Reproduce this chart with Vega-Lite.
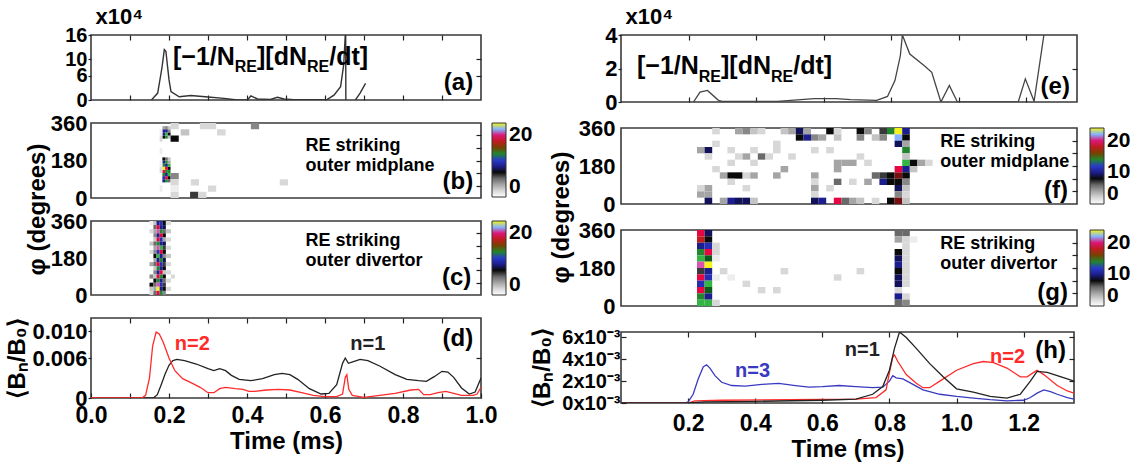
{
"$schema":"https://vega.github.io/schema/vega-lite/v6.json",
"background":"white",
"padding":{"left":5,"top":4,"right":0,"bottom":0},
"config":{
 "view":{"stroke":"#3a3a3a","strokeWidth":1.6},
 "axis":{"grid":false,"domain":false,"labelFont":"Liberation Sans","labelFontWeight":"bold","labelFontSize":22,"labelColor":"#000","titleFont":"Liberation Sans","titleFontWeight":"bold","titleFontSize":24,"titleColor":"#000","tickColor":"#222","tickWidth":1.2,"labelFlush":false,"labelOverlap":false},
 "text":{"font":"Liberation Sans","fontWeight":"bold","color":"#000"}
},
"datasets":{
 "a_line":[{"t":0.155,"v":0,"s":1},{"t":0.171,"v":1.7,"s":1},{"t":0.182,"v":8,"s":1},{"t":0.188,"v":12.4,"s":1},{"t":0.192,"v":12,"s":1},{"t":0.2,"v":5,"s":1},{"t":0.205,"v":2.1,"s":1},{"t":0.226,"v":0.8,"s":1},{"t":0.256,"v":1.1,"s":1},{"t":0.3,"v":0.75,"s":1},{"t":0.341,"v":0.4,"s":1},{"t":0.375,"v":0,"s":1},{"t":0.401,"v":0,"s":1},{"t":0.41,"v":1.0,"s":1},{"t":0.427,"v":0.25,"s":1},{"t":0.46,"v":0.15,"s":1},{"t":0.478,"v":0.66,"s":1},{"t":0.495,"v":0.25,"s":1},{"t":0.52,"v":0.05,"s":1},{"t":0.606,"v":0.15,"s":1},{"t":0.623,"v":1.2,"s":1},{"t":0.64,"v":3.3,"s":1},{"t":0.648,"v":8.7,"s":1},{"t":0.6525,"v":17,"s":1},{"t":0.653,"v":17,"s":1},{"t":0.6535,"v":0,"s":1},{"t":0.678,"v":0,"s":2},{"t":0.69,"v":1.7,"s":2},{"t":0.704,"v":4.1,"s":2}],
 "e_line":[{"t":0.2145,"v":0},{"t":0.234,"v":0.59},{"t":0.256,"v":0.69},{"t":0.2885,"v":0.1},{"t":0.299,"v":0.04},{"t":0.463,"v":0.04},{"t":0.572,"v":0.2},{"t":0.637,"v":0.2},{"t":0.68,"v":0.14},{"t":0.757,"v":0.1},{"t":0.789,"v":0.33},{"t":0.811,"v":1.28},{"t":0.827,"v":2.76},{"t":0.833,"v":4.0},{"t":0.855,"v":2.86},{"t":0.898,"v":2.17},{"t":0.92,"v":1.77},{"t":0.947,"v":0},{"t":0.972,"v":0.99},{"t":0.996,"v":0},{"t":1.176,"v":0},{"t":1.197,"v":1.38},{"t":1.223,"v":0.04},{"t":1.252,"v":4.0},{"t":1.258,"v":4.6}],
 "d_line":[
 {"t":0,"v":0,"n":"n=1"},{"t":0.16,"v":0,"n":"n=1"},{"t":0.17,"v":0.0005,"n":"n=1"},{"t":0.18,"v":0.002,"n":"n=1"},{"t":0.19,"v":0.0036,"n":"n=1"},{"t":0.2,"v":0.0049,"n":"n=1"},{"t":0.21,"v":0.0056,"n":"n=1"},{"t":0.22,"v":0.0058,"n":"n=1"},{"t":0.24,"v":0.0056,"n":"n=1"},{"t":0.27,"v":0.0051,"n":"n=1"},{"t":0.3,"v":0.0044,"n":"n=1"},{"t":0.315,"v":0.0041,"n":"n=1"},{"t":0.33,"v":0.0044,"n":"n=1"},{"t":0.345,"v":0.0041,"n":"n=1"},{"t":0.36,"v":0.0034,"n":"n=1"},{"t":0.38,"v":0.0028,"n":"n=1"},{"t":0.41,"v":0.0026,"n":"n=1"},{"t":0.44,"v":0.0029,"n":"n=1"},{"t":0.47,"v":0.0035,"n":"n=1"},{"t":0.49,"v":0.0037,"n":"n=1"},{"t":0.51,"v":0.0035,"n":"n=1"},{"t":0.53,"v":0.0028,"n":"n=1"},{"t":0.56,"v":0.0014,"n":"n=1"},{"t":0.59,"v":0.0006,"n":"n=1"},{"t":0.61,"v":0.0007,"n":"n=1"},{"t":0.63,"v":0.002,"n":"n=1"},{"t":0.645,"v":0.0052,"n":"n=1"},{"t":0.652,"v":0.006,"n":"n=1"},{"t":0.66,"v":0.0052,"n":"n=1"},{"t":0.675,"v":0.0055,"n":"n=1"},{"t":0.69,"v":0.0058,"n":"n=1"},{"t":0.71,"v":0.0056,"n":"n=1"},{"t":0.74,"v":0.0048,"n":"n=1"},{"t":0.78,"v":0.0035,"n":"n=1"},{"t":0.81,"v":0.0028,"n":"n=1"},{"t":0.84,"v":0.0026,"n":"n=1"},{"t":0.86,"v":0.0025,"n":"n=1"},{"t":0.88,"v":0.0032,"n":"n=1"},{"t":0.9,"v":0.004,"n":"n=1"},{"t":0.915,"v":0.0039,"n":"n=1"},{"t":0.93,"v":0.0031,"n":"n=1"},{"t":0.95,"v":0.0015,"n":"n=1"},{"t":0.97,"v":0.0006,"n":"n=1"},{"t":0.985,"v":0.0009,"n":"n=1"},{"t":1.0,"v":0.003,"n":"n=1"},
 {"t":0,"v":0,"n":"n=2"},{"t":0.13,"v":0,"n":"n=2"},{"t":0.14,"v":0.0004,"n":"n=2"},{"t":0.15,"v":0.003,"n":"n=2"},{"t":0.158,"v":0.0078,"n":"n=2"},{"t":0.167,"v":0.0099,"n":"n=2"},{"t":0.175,"v":0.0096,"n":"n=2"},{"t":0.185,"v":0.0084,"n":"n=2"},{"t":0.2,"v":0.006,"n":"n=2"},{"t":0.215,"v":0.0041,"n":"n=2"},{"t":0.235,"v":0.0029,"n":"n=2"},{"t":0.26,"v":0.0022,"n":"n=2"},{"t":0.28,"v":0.0016,"n":"n=2"},{"t":0.3,"v":0.0008,"n":"n=2"},{"t":0.315,"v":0.0008,"n":"n=2"},{"t":0.33,"v":0.0014,"n":"n=2"},{"t":0.345,"v":0.0016,"n":"n=2"},{"t":0.37,"v":0.0014,"n":"n=2"},{"t":0.39,"v":0.0013,"n":"n=2"},{"t":0.405,"v":0.001,"n":"n=2"},{"t":0.42,"v":0.001,"n":"n=2"},{"t":0.45,"v":0.0012,"n":"n=2"},{"t":0.48,"v":0.0013,"n":"n=2"},{"t":0.51,"v":0.0012,"n":"n=2"},{"t":0.54,"v":0.0008,"n":"n=2"},{"t":0.57,"v":0.0004,"n":"n=2"},{"t":0.6,"v":0.0002,"n":"n=2"},{"t":0.63,"v":0.0002,"n":"n=2"},{"t":0.645,"v":0.0006,"n":"n=2"},{"t":0.652,"v":0.0031,"n":"n=2"},{"t":0.656,"v":0.0035,"n":"n=2"},{"t":0.661,"v":0.0013,"n":"n=2"},{"t":0.67,"v":0.0004,"n":"n=2"},{"t":0.7,"v":0.0001,"n":"n=2"},{"t":0.74,"v":0.0004,"n":"n=2"},{"t":0.78,"v":0.0007,"n":"n=2"},{"t":0.82,"v":0.0012,"n":"n=2"},{"t":0.84,"v":0.0013,"n":"n=2"},{"t":0.853,"v":0.0005,"n":"n=2"},{"t":0.87,"v":0.0005,"n":"n=2"},{"t":0.89,"v":0.0008,"n":"n=2"},{"t":0.91,"v":0.001,"n":"n=2"},{"t":0.93,"v":0.0007,"n":"n=2"},{"t":0.95,"v":0.0004,"n":"n=2"},{"t":0.98,"v":0.0004,"n":"n=2"},{"t":0.99,"v":0.0006,"n":"n=2"},{"t":1.0,"v":0.0016,"n":"n=2"}],
 "h_line":[
 {"t":0,"v":0,"n":"n=3"},{"t":0.19,"v":0,"n":"n=3"},{"t":0.2,"v":0.1,"n":"n=3"},{"t":0.215,"v":0.8,"n":"n=3"},{"t":0.23,"v":2.2,"n":"n=3"},{"t":0.245,"v":3.3,"n":"n=3"},{"t":0.255,"v":3.5,"n":"n=3"},{"t":0.265,"v":3.2,"n":"n=3"},{"t":0.28,"v":2.5,"n":"n=3"},{"t":0.3,"v":1.9,"n":"n=3"},{"t":0.33,"v":1.6,"n":"n=3"},{"t":0.37,"v":1.55,"n":"n=3"},{"t":0.42,"v":1.7,"n":"n=3"},{"t":0.47,"v":1.8,"n":"n=3"},{"t":0.52,"v":1.6,"n":"n=3"},{"t":0.56,"v":1.45,"n":"n=3"},{"t":0.6,"v":1.5,"n":"n=3"},{"t":0.65,"v":1.6,"n":"n=3"},{"t":0.7,"v":1.5,"n":"n=3"},{"t":0.75,"v":1.4,"n":"n=3"},{"t":0.78,"v":1.45,"n":"n=3"},{"t":0.8,"v":2.0,"n":"n=3"},{"t":0.81,"v":2.5,"n":"n=3"},{"t":0.82,"v":2.3,"n":"n=3"},{"t":0.84,"v":2.2,"n":"n=3"},{"t":0.87,"v":1.7,"n":"n=3"},{"t":0.9,"v":1.2,"n":"n=3"},{"t":0.95,"v":0.8,"n":"n=3"},{"t":1.0,"v":0.6,"n":"n=3"},{"t":1.05,"v":0.45,"n":"n=3"},{"t":1.1,"v":0.3,"n":"n=3"},{"t":1.15,"v":0.2,"n":"n=3"},{"t":1.2,"v":0.25,"n":"n=3"},{"t":1.22,"v":0.5,"n":"n=3"},{"t":1.24,"v":0.9,"n":"n=3"},{"t":1.26,"v":1.2,"n":"n=3"},{"t":1.28,"v":1.05,"n":"n=3"},{"t":1.3,"v":0.8,"n":"n=3"},{"t":1.33,"v":0.5,"n":"n=3"},{"t":1.35,"v":0.35,"n":"n=3"},
 {"t":0,"v":0,"n":"n=2"},{"t":0.2,"v":0,"n":"n=2"},{"t":0.22,"v":0.2,"n":"n=2"},{"t":0.3,"v":0.25,"n":"n=2"},{"t":0.5,"v":0.3,"n":"n=2"},{"t":0.7,"v":0.35,"n":"n=2"},{"t":0.76,"v":0.5,"n":"n=2"},{"t":0.79,"v":1.2,"n":"n=2"},{"t":0.8,"v":2.8,"n":"n=2"},{"t":0.81,"v":4.2,"n":"n=2"},{"t":0.815,"v":4.4,"n":"n=2"},{"t":0.825,"v":3.8,"n":"n=2"},{"t":0.85,"v":2.6,"n":"n=2"},{"t":0.88,"v":1.8,"n":"n=2"},{"t":0.9,"v":1.4,"n":"n=2"},{"t":0.92,"v":1.4,"n":"n=2"},{"t":0.95,"v":2.0,"n":"n=2"},{"t":1.0,"v":3.0,"n":"n=2"},{"t":1.05,"v":3.6,"n":"n=2"},{"t":1.08,"v":3.8,"n":"n=2"},{"t":1.11,"v":3.7,"n":"n=2"},{"t":1.15,"v":3.2,"n":"n=2"},{"t":1.19,"v":2.4,"n":"n=2"},{"t":1.21,"v":2.4,"n":"n=2"},{"t":1.23,"v":2.8,"n":"n=2"},{"t":1.24,"v":3.0,"n":"n=2"},{"t":1.26,"v":2.6,"n":"n=2"},{"t":1.3,"v":1.6,"n":"n=2"},{"t":1.33,"v":1.1,"n":"n=2"},{"t":1.35,"v":0.9,"n":"n=2"},
 {"t":0,"v":0,"n":"n=1"},{"t":0.2,"v":0,"n":"n=1"},{"t":0.25,"v":0.1,"n":"n=1"},{"t":0.4,"v":0.15,"n":"n=1"},{"t":0.6,"v":0.25,"n":"n=1"},{"t":0.7,"v":0.35,"n":"n=1"},{"t":0.75,"v":0.8,"n":"n=1"},{"t":0.78,"v":1.5,"n":"n=1"},{"t":0.8,"v":3.0,"n":"n=1"},{"t":0.815,"v":5.0,"n":"n=1"},{"t":0.83,"v":6.5,"n":"n=1"},{"t":0.85,"v":6.0,"n":"n=1"},{"t":0.88,"v":5.0,"n":"n=1"},{"t":0.92,"v":3.6,"n":"n=1"},{"t":0.96,"v":2.4,"n":"n=1"},{"t":1.0,"v":1.3,"n":"n=1"},{"t":1.05,"v":1.0,"n":"n=1"},{"t":1.1,"v":0.6,"n":"n=1"},{"t":1.15,"v":0.45,"n":"n=1"},{"t":1.19,"v":0.8,"n":"n=1"},{"t":1.22,"v":2.0,"n":"n=1"},{"t":1.24,"v":2.9,"n":"n=1"},{"t":1.27,"v":2.8,"n":"n=1"},{"t":1.3,"v":2.5,"n":"n=1"},{"t":1.33,"v":2.2,"n":"n=1"},{"t":1.35,"v":2.0,"n":"n=1"}],
 "b_cells":[
 {"t0":0.183,"t1":0.19,"f0":75,"f1":90,"n":10},{"t0":0.183,"t1":0.19,"f0":90,"f1":105,"n":11},{"t0":0.183,"t1":0.19,"f0":105,"f1":120,"n":14},{"t0":0.183,"t1":0.19,"f0":120,"f1":135,"n":19},{"t0":0.183,"t1":0.19,"f0":135,"f1":150,"n":24},{"t0":0.183,"t1":0.19,"f0":150,"f1":165,"n":14},{"t0":0.183,"t1":0.19,"f0":165,"f1":180,"n":10},{"t0":0.183,"t1":0.19,"f0":180,"f1":195,"n":8},
 {"t0":0.183,"t1":0.19,"f0":285,"f1":300,"n":8},{"t0":0.183,"t1":0.19,"f0":300,"f1":315,"n":10},{"t0":0.183,"t1":0.19,"f0":315,"f1":330,"n":10},{"t0":0.183,"t1":0.19,"f0":330,"f1":345,"n":4},
 {"t0":0.19,"t1":0.197,"f0":75,"f1":90,"n":14},{"t0":0.19,"t1":0.197,"f0":90,"f1":105,"n":19},{"t0":0.19,"t1":0.197,"f0":105,"f1":120,"n":10},{"t0":0.19,"t1":0.197,"f0":120,"f1":135,"n":14},{"t0":0.19,"t1":0.197,"f0":135,"f1":150,"n":19},{"t0":0.19,"t1":0.197,"f0":150,"f1":165,"n":10},{"t0":0.19,"t1":0.197,"f0":165,"f1":180,"n":14},{"t0":0.19,"t1":0.197,"f0":180,"f1":195,"n":6},
 {"t0":0.19,"t1":0.197,"f0":285,"f1":300,"n":14},{"t0":0.19,"t1":0.197,"f0":300,"f1":315,"n":15},{"t0":0.19,"t1":0.197,"f0":315,"f1":330,"n":10},{"t0":0.19,"t1":0.197,"f0":330,"f1":345,"n":5},
 {"t0":0.197,"t1":0.204,"f0":75,"f1":90,"n":6},{"t0":0.197,"t1":0.204,"f0":90,"f1":105,"n":8},{"t0":0.197,"t1":0.204,"f0":105,"f1":120,"n":15},{"t0":0.197,"t1":0.204,"f0":120,"f1":135,"n":14},{"t0":0.197,"t1":0.204,"f0":135,"f1":150,"n":8},{"t0":0.197,"t1":0.204,"f0":150,"f1":165,"n":15},{"t0":0.197,"t1":0.204,"f0":165,"f1":180,"n":4},{"t0":0.197,"t1":0.204,"f0":180,"f1":195,"n":3},
 {"t0":0.197,"t1":0.204,"f0":285,"f1":300,"n":3},{"t0":0.197,"t1":0.204,"f0":300,"f1":315,"n":8},{"t0":0.197,"t1":0.204,"f0":315,"f1":330,"n":5},{"t0":0.197,"t1":0.204,"f0":330,"f1":345,"n":3},
 {"t0":0.176,"t1":0.183,"f0":30,"f1":60,"n":1},{"t0":0.176,"t1":0.183,"f0":120,"f1":150,"n":2},{"t0":0.176,"t1":0.183,"f0":150,"f1":180,"n":1},{"t0":0.176,"t1":0.183,"f0":210,"f1":240,"n":1},{"t0":0.176,"t1":0.183,"f0":270,"f1":300,"n":2},{"t0":0.176,"t1":0.183,"f0":300,"f1":330,"n":1},
 {"t0":0.204,"t1":0.225,"f0":330,"f1":360,"n":2},{"t0":0.279,"t1":0.3,"f0":330,"f1":360,"n":2},{"t0":0.3,"t1":0.321,"f0":330,"f1":360,"n":2},{"t0":0.41,"t1":0.431,"f0":330,"f1":360,"n":5},{"t0":0.23,"t1":0.252,"f0":300,"f1":330,"n":3},{"t0":0.204,"t1":0.225,"f0":270,"f1":300,"n":8},{"t0":0.323,"t1":0.345,"f0":300,"f1":330,"n":2},{"t0":0.204,"t1":0.225,"f0":90,"f1":120,"n":5},{"t0":0.204,"t1":0.225,"f0":60,"f1":90,"n":2},{"t0":0.256,"t1":0.277,"f0":60,"f1":90,"n":2},{"t0":0.484,"t1":0.505,"f0":60,"f1":90,"n":2},{"t0":0.3,"t1":0.321,"f0":30,"f1":60,"n":2},{"t0":0.254,"t1":0.275,"f0":0,"f1":30,"n":7},{"t0":0.275,"t1":0.296,"f0":0,"f1":30,"n":2},{"t0":0.204,"t1":0.225,"f0":0,"f1":30,"n":2},{"t0":0.204,"t1":0.225,"f0":30,"f1":60,"n":1}],
 "c_cells":[
 {"t0":0.15,"t1":0.16,"f0":340,"f1":360,"n":1},{"t0":0.15,"t1":0.16,"f0":300,"f1":320,"n":2},{"t0":0.15,"t1":0.16,"f0":240,"f1":260,"n":3},{"t0":0.15,"t1":0.16,"f0":200,"f1":220,"n":2},{"t0":0.15,"t1":0.16,"f0":140,"f1":160,"n":4},{"t0":0.15,"t1":0.16,"f0":80,"f1":100,"n":5},{"t0":0.15,"t1":0.16,"f0":40,"f1":60,"n":8},{"t0":0.15,"t1":0.16,"f0":20,"f1":40,"n":3},{"t0":0.15,"t1":0.16,"f0":0,"f1":20,"n":2},
 {"t0":0.16,"t1":0.168,"f0":340,"f1":360,"n":3},{"t0":0.16,"t1":0.168,"f0":320,"f1":340,"n":6},{"t0":0.16,"t1":0.168,"f0":300,"f1":320,"n":4},{"t0":0.16,"t1":0.168,"f0":280,"f1":300,"n":5},{"t0":0.16,"t1":0.168,"f0":260,"f1":280,"n":3},{"t0":0.16,"t1":0.168,"f0":240,"f1":260,"n":6},{"t0":0.16,"t1":0.168,"f0":220,"f1":240,"n":4},{"t0":0.16,"t1":0.168,"f0":200,"f1":220,"n":5},{"t0":0.16,"t1":0.168,"f0":180,"f1":200,"n":8},{"t0":0.16,"t1":0.168,"f0":160,"f1":180,"n":4},{"t0":0.16,"t1":0.168,"f0":140,"f1":160,"n":6},{"t0":0.16,"t1":0.168,"f0":120,"f1":140,"n":3},{"t0":0.16,"t1":0.168,"f0":100,"f1":120,"n":5},{"t0":0.16,"t1":0.168,"f0":80,"f1":100,"n":3},{"t0":0.16,"t1":0.168,"f0":60,"f1":80,"n":8},{"t0":0.16,"t1":0.168,"f0":40,"f1":60,"n":6},{"t0":0.16,"t1":0.168,"f0":20,"f1":40,"n":4},{"t0":0.16,"t1":0.168,"f0":0,"f1":20,"n":6},
 {"t0":0.168,"t1":0.176,"f0":340,"f1":360,"n":10},{"t0":0.168,"t1":0.176,"f0":320,"f1":340,"n":19},{"t0":0.168,"t1":0.176,"f0":300,"f1":320,"n":21},{"t0":0.168,"t1":0.176,"f0":280,"f1":300,"n":10},{"t0":0.168,"t1":0.176,"f0":260,"f1":280,"n":19},{"t0":0.168,"t1":0.176,"f0":240,"f1":260,"n":14},{"t0":0.168,"t1":0.176,"f0":220,"f1":240,"n":21},{"t0":0.168,"t1":0.176,"f0":200,"f1":220,"n":11},{"t0":0.168,"t1":0.176,"f0":180,"f1":200,"n":15},{"t0":0.168,"t1":0.176,"f0":160,"f1":180,"n":10},{"t0":0.168,"t1":0.176,"f0":140,"f1":160,"n":19},{"t0":0.168,"t1":0.176,"f0":120,"f1":140,"n":14},{"t0":0.168,"t1":0.176,"f0":100,"f1":120,"n":10},{"t0":0.168,"t1":0.176,"f0":80,"f1":100,"n":19},{"t0":0.168,"t1":0.176,"f0":60,"f1":80,"n":14},{"t0":0.168,"t1":0.176,"f0":40,"f1":60,"n":21},{"t0":0.168,"t1":0.176,"f0":20,"f1":40,"n":24},{"t0":0.168,"t1":0.176,"f0":0,"f1":20,"n":19},
 {"t0":0.176,"t1":0.184,"f0":340,"f1":360,"n":11},{"t0":0.176,"t1":0.184,"f0":320,"f1":340,"n":10},{"t0":0.176,"t1":0.184,"f0":300,"f1":320,"n":14},{"t0":0.176,"t1":0.184,"f0":280,"f1":300,"n":19},{"t0":0.176,"t1":0.184,"f0":260,"f1":280,"n":11},{"t0":0.176,"t1":0.184,"f0":240,"f1":260,"n":10},{"t0":0.176,"t1":0.184,"f0":220,"f1":240,"n":15},{"t0":0.176,"t1":0.184,"f0":200,"f1":220,"n":19},{"t0":0.176,"t1":0.184,"f0":180,"f1":200,"n":10},{"t0":0.176,"t1":0.184,"f0":160,"f1":180,"n":14},{"t0":0.176,"t1":0.184,"f0":140,"f1":160,"n":11},{"t0":0.176,"t1":0.184,"f0":120,"f1":140,"n":10},{"t0":0.176,"t1":0.184,"f0":100,"f1":120,"n":19},{"t0":0.176,"t1":0.184,"f0":80,"f1":100,"n":14},{"t0":0.176,"t1":0.184,"f0":60,"f1":80,"n":10},{"t0":0.176,"t1":0.184,"f0":40,"f1":60,"n":11},{"t0":0.176,"t1":0.184,"f0":20,"f1":40,"n":10},{"t0":0.176,"t1":0.184,"f0":0,"f1":20,"n":14},
 {"t0":0.184,"t1":0.192,"f0":340,"f1":360,"n":8},{"t0":0.184,"t1":0.192,"f0":320,"f1":340,"n":9},{"t0":0.184,"t1":0.192,"f0":300,"f1":320,"n":6},{"t0":0.184,"t1":0.192,"f0":280,"f1":300,"n":8},{"t0":0.184,"t1":0.192,"f0":260,"f1":280,"n":4},{"t0":0.184,"t1":0.192,"f0":240,"f1":260,"n":9},{"t0":0.184,"t1":0.192,"f0":220,"f1":240,"n":7},{"t0":0.184,"t1":0.192,"f0":200,"f1":220,"n":8},{"t0":0.184,"t1":0.192,"f0":180,"f1":200,"n":5},{"t0":0.184,"t1":0.192,"f0":160,"f1":180,"n":9},{"t0":0.184,"t1":0.192,"f0":140,"f1":160,"n":7},{"t0":0.184,"t1":0.192,"f0":120,"f1":140,"n":8},{"t0":0.184,"t1":0.192,"f0":100,"f1":120,"n":3},{"t0":0.184,"t1":0.192,"f0":80,"f1":100,"n":8},{"t0":0.184,"t1":0.192,"f0":60,"f1":80,"n":6},{"t0":0.184,"t1":0.192,"f0":40,"f1":60,"n":7},{"t0":0.184,"t1":0.192,"f0":20,"f1":40,"n":8},{"t0":0.184,"t1":0.192,"f0":0,"f1":20,"n":5},
 {"t0":0.192,"t1":0.205,"f0":340,"f1":360,"n":2},{"t0":0.192,"t1":0.205,"f0":300,"f1":320,"n":3},{"t0":0.192,"t1":0.205,"f0":260,"f1":280,"n":2},{"t0":0.192,"t1":0.205,"f0":220,"f1":240,"n":2},{"t0":0.192,"t1":0.205,"f0":180,"f1":200,"n":3},{"t0":0.192,"t1":0.205,"f0":140,"f1":160,"n":2},{"t0":0.192,"t1":0.205,"f0":100,"f1":120,"n":2},{"t0":0.192,"t1":0.205,"f0":60,"f1":80,"n":2},{"t0":0.192,"t1":0.205,"f0":20,"f1":40,"n":2},{"t0":0.205,"t1":0.215,"f0":80,"f1":100,"n":2}],
 "f_cells":[
 {"t0":0.27,"t1":0.2925,"f0":330,"f1":360,"n":2},{"t0":0.3375,"t1":0.36,"f0":330,"f1":360,"n":4},{"t0":0.36,"t1":0.3825,"f0":330,"f1":360,"n":5},{"t0":0.3825,"t1":0.405,"f0":330,"f1":360,"n":3},{"t0":0.405,"t1":0.4275,"f0":330,"f1":360,"n":2},{"t0":0.4725,"t1":0.495,"f0":330,"f1":360,"n":3},{"t0":0.495,"t1":0.5175,"f0":330,"f1":360,"n":4},{"t0":0.5175,"t1":0.54,"f0":330,"f1":360,"n":9},{"t0":0.54,"t1":0.5625,"f0":330,"f1":360,"n":4},{"t0":0.6075,"t1":0.63,"f0":330,"f1":360,"n":8},{"t0":0.63,"t1":0.6525,"f0":330,"f1":360,"n":2},{"t0":0.6975,"t1":0.72,"f0":330,"f1":360,"n":8},{"t0":0.72,"t1":0.7425,"f0":330,"f1":360,"n":5},{"t0":0.765,"t1":0.7875,"f0":330,"f1":360,"n":7},{"t0":0.7875,"t1":0.81,"f0":330,"f1":360,"n":14},{"t0":0.81,"t1":0.8325,"f0":330,"f1":360,"n":24},{"t0":0.8325,"t1":0.855,"f0":330,"f1":360,"n":10},
 {"t0":0.5175,"t1":0.54,"f0":300,"f1":330,"n":8},{"t0":0.54,"t1":0.5625,"f0":300,"f1":330,"n":10},{"t0":0.5625,"t1":0.585,"f0":300,"f1":330,"n":5},{"t0":0.585,"t1":0.6075,"f0":300,"f1":330,"n":4},{"t0":0.63,"t1":0.6525,"f0":300,"f1":330,"n":3},{"t0":0.6975,"t1":0.72,"f0":300,"f1":330,"n":5},{"t0":0.7425,"t1":0.765,"f0":300,"f1":330,"n":3},{"t0":0.765,"t1":0.7875,"f0":300,"f1":330,"n":5},{"t0":0.81,"t1":0.8325,"f0":300,"f1":330,"n":22},{"t0":0.8325,"t1":0.855,"f0":300,"f1":330,"n":8},
 {"t0":0.27,"t1":0.2925,"f0":270,"f1":300,"n":2},{"t0":0.45,"t1":0.4725,"f0":270,"f1":300,"n":2},{"t0":0.81,"t1":0.8325,"f0":270,"f1":300,"n":9},{"t0":0.8325,"t1":0.855,"f0":270,"f1":300,"n":4},
 {"t0":0.225,"t1":0.2475,"f0":240,"f1":270,"n":4},{"t0":0.2475,"t1":0.27,"f0":240,"f1":270,"n":9},{"t0":0.315,"t1":0.3375,"f0":240,"f1":270,"n":2},{"t0":0.3825,"t1":0.405,"f0":240,"f1":270,"n":2},{"t0":0.45,"t1":0.4725,"f0":240,"f1":270,"n":2},{"t0":0.5625,"t1":0.585,"f0":240,"f1":270,"n":2},{"t0":0.6075,"t1":0.63,"f0":240,"f1":270,"n":2},{"t0":0.8325,"t1":0.855,"f0":240,"f1":270,"n":14},
 {"t0":0.2475,"t1":0.27,"f0":210,"f1":240,"n":2},{"t0":0.3375,"t1":0.36,"f0":210,"f1":240,"n":2},{"t0":0.36,"t1":0.3825,"f0":210,"f1":240,"n":4},{"t0":0.405,"t1":0.4275,"f0":210,"f1":240,"n":6},{"t0":0.4275,"t1":0.45,"f0":210,"f1":240,"n":2},{"t0":0.495,"t1":0.5175,"f0":210,"f1":240,"n":2},{"t0":0.6975,"t1":0.72,"f0":210,"f1":240,"n":2},{"t0":0.8325,"t1":0.855,"f0":210,"f1":240,"n":3},
 {"t0":0.315,"t1":0.3375,"f0":180,"f1":210,"n":2},{"t0":0.3825,"t1":0.405,"f0":180,"f1":210,"n":2},{"t0":0.63,"t1":0.6525,"f0":180,"f1":210,"n":4},{"t0":0.6525,"t1":0.675,"f0":180,"f1":210,"n":4},{"t0":0.675,"t1":0.6975,"f0":180,"f1":210,"n":4},{"t0":0.72,"t1":0.7425,"f0":180,"f1":210,"n":2},{"t0":0.8325,"t1":0.855,"f0":180,"f1":210,"n":15},{"t0":0.855,"t1":0.8775,"f0":180,"f1":210,"n":8},{"t0":0.8775,"t1":0.9,"f0":180,"f1":210,"n":4},{"t0":0.9,"t1":0.9225,"f0":180,"f1":210,"n":2},
 {"t0":0.27,"t1":0.2925,"f0":150,"f1":180,"n":2},{"t0":0.4725,"t1":0.495,"f0":150,"f1":180,"n":4},{"t0":0.63,"t1":0.6525,"f0":150,"f1":180,"n":4},{"t0":0.81,"t1":0.8325,"f0":150,"f1":180,"n":19},{"t0":0.8325,"t1":0.855,"f0":150,"f1":180,"n":10},{"t0":0.855,"t1":0.8775,"f0":150,"f1":180,"n":3},
 {"t0":0.2925,"t1":0.315,"f0":120,"f1":150,"n":4},{"t0":0.315,"t1":0.3375,"f0":120,"f1":150,"n":8},{"t0":0.3375,"t1":0.36,"f0":120,"f1":150,"n":8},{"t0":0.36,"t1":0.3825,"f0":120,"f1":150,"n":2},{"t0":0.3825,"t1":0.405,"f0":120,"f1":150,"n":4},{"t0":0.45,"t1":0.4725,"f0":120,"f1":150,"n":4},{"t0":0.5625,"t1":0.585,"f0":120,"f1":150,"n":4},{"t0":0.7425,"t1":0.765,"f0":120,"f1":150,"n":6},{"t0":0.765,"t1":0.7875,"f0":120,"f1":150,"n":7},{"t0":0.7875,"t1":0.81,"f0":120,"f1":150,"n":8},{"t0":0.81,"t1":0.8325,"f0":120,"f1":150,"n":17},{"t0":0.8325,"t1":0.855,"f0":120,"f1":150,"n":8},
 {"t0":0.315,"t1":0.3375,"f0":90,"f1":120,"n":2},{"t0":0.5625,"t1":0.585,"f0":90,"f1":120,"n":2},{"t0":0.63,"t1":0.6525,"f0":90,"f1":120,"n":6},{"t0":0.675,"t1":0.6975,"f0":90,"f1":120,"n":2},{"t0":0.72,"t1":0.7425,"f0":90,"f1":120,"n":4},{"t0":0.765,"t1":0.7875,"f0":90,"f1":120,"n":10},{"t0":0.7875,"t1":0.81,"f0":90,"f1":120,"n":8},{"t0":0.81,"t1":0.8325,"f0":90,"f1":120,"n":8},{"t0":0.8325,"t1":0.855,"f0":90,"f1":120,"n":5},
 {"t0":0.225,"t1":0.2475,"f0":60,"f1":90,"n":2},{"t0":0.2475,"t1":0.27,"f0":60,"f1":90,"n":4},{"t0":0.36,"t1":0.3825,"f0":60,"f1":90,"n":2},{"t0":0.5625,"t1":0.585,"f0":60,"f1":90,"n":4},{"t0":0.6075,"t1":0.63,"f0":60,"f1":90,"n":2},{"t0":0.81,"t1":0.8325,"f0":60,"f1":90,"n":9},{"t0":0.8325,"t1":0.855,"f0":60,"f1":90,"n":3},
 {"t0":0.225,"t1":0.2475,"f0":30,"f1":60,"n":4},{"t0":0.2475,"t1":0.27,"f0":30,"f1":60,"n":4},{"t0":0.5625,"t1":0.585,"f0":30,"f1":60,"n":2},{"t0":0.81,"t1":0.8325,"f0":30,"f1":60,"n":5},{"t0":0.8325,"t1":0.855,"f0":30,"f1":60,"n":2},
 {"t0":0.2475,"t1":0.27,"f0":0,"f1":30,"n":9},{"t0":0.2925,"t1":0.315,"f0":0,"f1":30,"n":4},{"t0":0.315,"t1":0.3375,"f0":0,"f1":30,"n":10},{"t0":0.3375,"t1":0.36,"f0":0,"f1":30,"n":9},{"t0":0.36,"t1":0.3825,"f0":0,"f1":30,"n":9},{"t0":0.3825,"t1":0.405,"f0":0,"f1":30,"n":3},{"t0":0.5625,"t1":0.585,"f0":0,"f1":30,"n":9},{"t0":0.585,"t1":0.6075,"f0":0,"f1":30,"n":10},{"t0":0.63,"t1":0.6525,"f0":0,"f1":30,"n":19},{"t0":0.6525,"t1":0.675,"f0":0,"f1":30,"n":6},{"t0":0.675,"t1":0.6975,"f0":0,"f1":30,"n":4},{"t0":0.6975,"t1":0.72,"f0":0,"f1":30,"n":3},{"t0":0.7425,"t1":0.765,"f0":0,"f1":30,"n":2},{"t0":0.7875,"t1":0.81,"f0":0,"f1":30,"n":8},{"t0":0.81,"t1":0.8325,"f0":0,"f1":30,"n":17},{"t0":0.8325,"t1":0.855,"f0":0,"f1":30,"n":3}],
 "g_cells":[
 {"t0":0.225,"t1":0.2475,"f0":330,"f1":360,"n":19},{"t0":0.225,"t1":0.2475,"f0":300,"f1":330,"n":18},{"t0":0.225,"t1":0.2475,"f0":270,"f1":300,"n":10},{"t0":0.225,"t1":0.2475,"f0":240,"f1":270,"n":14},{"t0":0.225,"t1":0.2475,"f0":210,"f1":240,"n":15},{"t0":0.225,"t1":0.2475,"f0":180,"f1":210,"n":21},{"t0":0.225,"t1":0.2475,"f0":150,"f1":180,"n":7},{"t0":0.225,"t1":0.2475,"f0":120,"f1":150,"n":19},{"t0":0.225,"t1":0.2475,"f0":90,"f1":120,"n":11},{"t0":0.225,"t1":0.2475,"f0":60,"f1":90,"n":19},{"t0":0.225,"t1":0.2475,"f0":30,"f1":60,"n":14},{"t0":0.225,"t1":0.2475,"f0":0,"f1":30,"n":15},
 {"t0":0.2475,"t1":0.27,"f0":330,"f1":360,"n":9},{"t0":0.2475,"t1":0.27,"f0":300,"f1":330,"n":8},{"t0":0.2475,"t1":0.27,"f0":270,"f1":300,"n":11},{"t0":0.2475,"t1":0.27,"f0":240,"f1":270,"n":19},{"t0":0.2475,"t1":0.27,"f0":210,"f1":240,"n":13},{"t0":0.2475,"t1":0.27,"f0":180,"f1":210,"n":24},{"t0":0.2475,"t1":0.27,"f0":150,"f1":180,"n":10},{"t0":0.2475,"t1":0.27,"f0":120,"f1":150,"n":11},{"t0":0.2475,"t1":0.27,"f0":90,"f1":120,"n":15},{"t0":0.2475,"t1":0.27,"f0":60,"f1":90,"n":13},{"t0":0.2475,"t1":0.27,"f0":30,"f1":60,"n":10},{"t0":0.2475,"t1":0.27,"f0":0,"f1":30,"n":15},
 {"t0":0.27,"t1":0.2925,"f0":270,"f1":300,"n":2},{"t0":0.27,"t1":0.2925,"f0":240,"f1":270,"n":2},{"t0":0.27,"t1":0.2925,"f0":210,"f1":240,"n":1},{"t0":0.27,"t1":0.2925,"f0":120,"f1":150,"n":1},{"t0":0.27,"t1":0.2925,"f0":0,"f1":30,"n":2},{"t0":0.2925,"t1":0.315,"f0":150,"f1":180,"n":2},{"t0":0.315,"t1":0.3375,"f0":120,"f1":150,"n":1},{"t0":0.36,"t1":0.3825,"f0":90,"f1":120,"n":2},{"t0":0.405,"t1":0.4275,"f0":60,"f1":90,"n":2},{"t0":0.45,"t1":0.4725,"f0":60,"f1":90,"n":2},{"t0":0.4725,"t1":0.495,"f0":150,"f1":180,"n":2},{"t0":0.63,"t1":0.6525,"f0":120,"f1":150,"n":2},{"t0":0.6975,"t1":0.72,"f0":150,"f1":180,"n":2},
 {"t0":0.81,"t1":0.8325,"f0":330,"f1":360,"n":6},{"t0":0.81,"t1":0.8325,"f0":300,"f1":330,"n":4},{"t0":0.81,"t1":0.8325,"f0":240,"f1":270,"n":8},{"t0":0.81,"t1":0.8325,"f0":210,"f1":240,"n":9},{"t0":0.81,"t1":0.8325,"f0":180,"f1":210,"n":10},{"t0":0.81,"t1":0.8325,"f0":150,"f1":180,"n":8},{"t0":0.81,"t1":0.8325,"f0":120,"f1":150,"n":9},{"t0":0.81,"t1":0.8325,"f0":90,"f1":120,"n":9},{"t0":0.81,"t1":0.8325,"f0":60,"f1":90,"n":2},{"t0":0.81,"t1":0.8325,"f0":30,"f1":60,"n":10},{"t0":0.81,"t1":0.8325,"f0":0,"f1":30,"n":6},
 {"t0":0.8325,"t1":0.855,"f0":330,"f1":360,"n":6},{"t0":0.8325,"t1":0.855,"f0":300,"f1":330,"n":2},{"t0":0.8325,"t1":0.855,"f0":270,"f1":300,"n":2},{"t0":0.8325,"t1":0.855,"f0":240,"f1":270,"n":2},{"t0":0.8325,"t1":0.855,"f0":210,"f1":240,"n":2},{"t0":0.8325,"t1":0.855,"f0":180,"f1":210,"n":2},{"t0":0.8325,"t1":0.855,"f0":150,"f1":180,"n":2},{"t0":0.8325,"t1":0.855,"f0":120,"f1":150,"n":2},{"t0":0.8325,"t1":0.855,"f0":90,"f1":120,"n":2},{"t0":0.8325,"t1":0.855,"f0":30,"f1":60,"n":2},{"t0":0.8325,"t1":0.855,"f0":0,"f1":30,"n":5},{"t0":0.855,"t1":0.8775,"f0":300,"f1":330,"n":1}]
},
"resolve":{"scale":{"color":"independent"}},
"spacing":-4,
"hconcat":[
{"vconcat":[
 {"width":390,"height":65,"layer":[
  {"data":{"name":"a_line"},"mark":{"type":"line","color":"#333333","strokeWidth":1.4,"clip":true},
   "encoding":{"x":{"field":"t","type":"quantitative","scale":{"domain":[0,1],"nice":false,"zero":false},"axis":{"orient":"bottom","values":[0.1,0.2,0.3,0.4,0.5,0.6,0.7,0.8,0.9],"labels":false,"tickSize":-5,"title":null}},
   "y":{"field":"v","type":"quantitative","scale":{"domain":[0,16],"nice":false},"axis":{"orient":"left","values":[0,6,10,16],"tickSize":3,"labelPadding":1,"labelFontSize":20,"title":"x10⁴","titleAngle":0,"titleAlign":"left","titleBaseline":"alphabetic","titleX":4,"titleY":-12,"titleFontSize":22}},
   "detail":{"field":"s","type":"nominal"}}},
  {"data":{"name":"a_line"},"mark":{"type":"point","opacity":0},
   "encoding":{"x":{"field":"t","type":"quantitative","scale":{"domain":[0,1],"nice":false,"zero":false},"axis":{"orient":"top","values":[0.1,0.2,0.3,0.4,0.5,0.6,0.7,0.8,0.9],"labels":false,"tickSize":-5,"title":null}},
   "y":{"field":"v","type":"quantitative","scale":{"domain":[0,16],"nice":false},"axis":{"orient":"right","values":[6,10],"labels":false,"tickSize":-5,"title":null}}}},
  {"data":{"values":[{"t":0.2103,"v":8.6,"txt":"[−1/N"},{"t":0.4256,"v":8.6,"txt":"][dN"},{"t":0.6108,"v":8.6,"txt":"/dt]"}]},"mark":{"type":"text","fontSize":25,"align":"left","baseline":"alphabetic"},
   "encoding":{"x":{"field":"t","type":"quantitative","axis":null},"y":{"field":"v","type":"quantitative","axis":null},"text":{"field":"txt"}}},
  {"data":{"values":[{"t":0.3687,"v":7.0,"txt":"RE"},{"t":0.5538,"v":7.0,"txt":"RE"}]},"mark":{"type":"text","fontSize":16,"align":"left","baseline":"alphabetic"},
   "encoding":{"x":{"field":"t","type":"quantitative","axis":null},"y":{"field":"v","type":"quantitative","axis":null},"text":{"field":"txt"}}},
  {"data":{"values":[{"t":0.98,"v":2.5,"txt":"(a)"}]},"mark":{"type":"text","fontSize":24,"align":"right","baseline":"alphabetic"},
   "encoding":{"x":{"field":"t","type":"quantitative","axis":null},"y":{"field":"v","type":"quantitative","axis":null},"text":{"field":"txt"}}}
 ]},
 {"width":390,"height":75,"layer":[
  {"data":{"name":"b_cells"},"mark":{"type":"rect"},
   "encoding":{"x":{"field":"t0","type":"quantitative","scale":{"domain":[0,1],"nice":false,"zero":false},"axis":null},"x2":{"field":"t1"},
   "y":{"field":"f0","type":"quantitative","scale":{"domain":[0,360],"nice":false},"axis":{"orient":"left","values":[0,180,360],"ticks":false,"labelPadding":4,"title":null}},"y2":{"field":"f1"},
   "color":{"field":"n","type":"quantitative","scale":{"type":"linear","domain":[0,1,3,6,8,9,10.5,12,13,15,16.5,18.5,20.5,21.5,22.5,24],"range":["#ffffff","#ededed","#c4c4c4","#6a6a6a","#0a0a0a","#12125a","#2424a8","#2a3cc8","#0e5a1a","#34b444","#5a0a0a","#e42222","#d02c8c","#e070d8","#78d8ec","#f4f41c"],"clamp":true},
    "legend":{"type":"gradient","title":null,"direction":"vertical","orient":"right","offset":10,"padding":0,"gradientLength":74,"gradientThickness":14,"gradientStrokeColor":"#333","gradientStrokeWidth":1,"values":[0,10,20],"labelFont":"Liberation Sans","labelFontSize":21,"labelFontWeight":"bold","labelColor":"#000","labelOffset":3}}}},
  {"data":{"name":"b_cells"},"mark":{"type":"rect","opacity":0},
   "encoding":{"x":{"field":"t0","type":"quantitative","scale":{"domain":[0,1],"nice":false,"zero":false},"axis":null},"x2":{"field":"t1"},
   "y":{"field":"f0","type":"quantitative","scale":{"domain":[0,360],"nice":false},"axis":{"orient":"right","values":[60,120,180,240,300],"labels":false,"tickSize":-5,"title":null}},"y2":{"field":"f1"}}},
  {"data":{"values":[{"t":0.55,"f":228,"txt":"RE striking\nouter midplane"}]},"mark":{"type":"text","fontSize":18,"lineHeight":20,"lineBreak":"\n","align":"left","baseline":"alphabetic"},
   "encoding":{"x":{"field":"t","type":"quantitative","axis":null},"y":{"field":"f","type":"quantitative","axis":null},"text":{"field":"txt"}}},
  {"data":{"values":[{"t":0.98,"f":43,"txt":"(b)"}]},"mark":{"type":"text","fontSize":24,"align":"right","baseline":"alphabetic"},
   "encoding":{"x":{"field":"t","type":"quantitative","axis":null},"y":{"field":"f","type":"quantitative","axis":null},"text":{"field":"txt"}}}
 ]},
 {"width":390,"height":74,"layer":[
  {"data":{"name":"c_cells"},"mark":{"type":"rect"},
   "encoding":{"x":{"field":"t0","type":"quantitative","scale":{"domain":[0,1],"nice":false,"zero":false},"axis":null},"x2":{"field":"t1"},
   "y":{"field":"f0","type":"quantitative","scale":{"domain":[0,360],"nice":false},"axis":{"orient":"left","values":[0,180,360],"ticks":false,"labelPadding":4,"title":"φ (degrees)","titleY":-12,"titlePadding":1}},"y2":{"field":"f1"},
   "color":{"field":"n","type":"quantitative","scale":{"type":"linear","domain":[0,1,3,6,8,9,10.5,12,13,15,16.5,18.5,20.5,21.5,22.5,24],"range":["#ffffff","#ededed","#c4c4c4","#6a6a6a","#0a0a0a","#12125a","#2424a8","#2a3cc8","#0e5a1a","#34b444","#5a0a0a","#e42222","#d02c8c","#e070d8","#78d8ec","#f4f41c"],"clamp":true},
    "legend":{"type":"gradient","title":null,"direction":"vertical","orient":"right","offset":10,"padding":0,"gradientLength":74,"gradientThickness":14,"gradientStrokeColor":"#333","gradientStrokeWidth":1,"values":[0,10,20],"labelFont":"Liberation Sans","labelFontSize":21,"labelFontWeight":"bold","labelColor":"#000","labelOffset":3}}}},
  {"data":{"name":"c_cells"},"mark":{"type":"rect","opacity":0},
   "encoding":{"x":{"field":"t0","type":"quantitative","scale":{"domain":[0,1],"nice":false,"zero":false},"axis":null},"x2":{"field":"t1"},
   "y":{"field":"f0","type":"quantitative","scale":{"domain":[0,360],"nice":false},"axis":{"orient":"right","values":[60,120,180,240,300],"labels":false,"tickSize":-5,"title":null}},"y2":{"field":"f1"}}},
  {"data":{"values":[{"t":0.55,"f":238,"txt":"RE striking\nouter divertor"}]},"mark":{"type":"text","fontSize":18,"lineHeight":20,"lineBreak":"\n","align":"left","baseline":"alphabetic"},
   "encoding":{"x":{"field":"t","type":"quantitative","axis":null},"y":{"field":"f","type":"quantitative","axis":null},"text":{"field":"txt"}}},
  {"data":{"values":[{"t":0.975,"f":49,"txt":"(c)"}]},"mark":{"type":"text","fontSize":24,"align":"right","baseline":"alphabetic"},
   "encoding":{"x":{"field":"t","type":"quantitative","axis":null},"y":{"field":"f","type":"quantitative","axis":null},"text":{"field":"txt"}}}
 ]},
 {"width":390,"height":80,"layer":[
  {"data":{"name":"d_line"},"mark":{"type":"line","strokeWidth":1.3,"clip":true},
   "encoding":{"x":{"field":"t","type":"quantitative","scale":{"domain":[0,1],"nice":false,"zero":false},"axis":{"orient":"bottom","values":[0,0.1,0.2,0.3,0.4,0.5,0.6,0.7,0.8,0.9,1.0],"labelExpr":"round(datum.value*10)%2==0 ? format(datum.value,'.1f') : ''","tickSize":-5,"labelPadding":11,"labelFontSize":23,"title":"Time (ms)","titlePadding":2}},
   "y":{"field":"v","type":"quantitative","scale":{"domain":[0,0.012],"nice":false},"axis":{"orient":"left","values":[0,0.006,0.01],"labelExpr":"datum.value==0 ? '0' : format(datum.value,'.3f')","tickSize":3,"labelPadding":1,"title":"⟨Bₙ/B₀⟩","titleFontSize":24,"titlePadding":2}},
   "color":{"field":"n","type":"nominal","scale":{"domain":["n=1","n=2","n=3"],"range":["#222222","#ff2a2a","#3a3ac0"]},"legend":null}}},
  {"data":{"name":"d_line"},"mark":{"type":"point","opacity":0},
   "encoding":{"x":{"field":"t","type":"quantitative","scale":{"domain":[0,1],"nice":false,"zero":false},"axis":{"orient":"top","values":[0.1,0.2,0.3,0.4,0.5,0.6,0.7,0.8,0.9],"labels":false,"tickSize":-5,"title":null}},
   "y":{"field":"v","type":"quantitative","scale":{"domain":[0,0.012],"nice":false},"axis":{"orient":"right","values":[0.006],"labels":false,"tickSize":-5,"title":null}}}},
  {"data":{"values":[{"t":0.215,"v":0.0072,"n":"n=2"},{"t":0.665,"v":0.0072,"n":"n=1"}]},"mark":{"type":"text","fontSize":20,"align":"left","baseline":"alphabetic"},
   "encoding":{"x":{"field":"t","type":"quantitative","axis":null},"y":{"field":"v","type":"quantitative","axis":null},"text":{"field":"n"},"color":{"field":"n","type":"nominal","legend":null}}},
  {"data":{"values":[{"t":0.98,"v":0.0078,"txt":"(d)"}]},"mark":{"type":"text","fontSize":24,"align":"right","baseline":"alphabetic"},
   "encoding":{"x":{"field":"t","type":"quantitative","axis":null},"y":{"field":"v","type":"quantitative","axis":null},"text":{"field":"txt"}}}
 ]}
],"spacing":23,"bounds":"flush","resolve":{"scale":{"color":"independent"}}},
{"vconcat":[
 {"width":456,"height":67,"layer":[
  {"data":{"name":"e_line"},"mark":{"type":"line","color":"#444444","strokeWidth":1.3,"clip":true},
   "encoding":{"x":{"field":"t","type":"quantitative","scale":{"domain":[0,1.35],"nice":false,"zero":false},"axis":{"orient":"bottom","values":[0.2,0.4,0.6,0.8,1.0,1.2],"labels":false,"tickSize":-5,"title":null}},
   "y":{"field":"v","type":"quantitative","scale":{"domain":[0,4],"nice":false},"axis":{"orient":"left","values":[0,2,4],"tickSize":3,"labelPadding":1,"title":"x10⁴","titleAngle":0,"titleAlign":"left","titleBaseline":"alphabetic","titleX":4,"titleY":-12,"titleFontSize":22}}}},
  {"data":{"name":"e_line"},"mark":{"type":"point","opacity":0},
   "encoding":{"x":{"field":"t","type":"quantitative","scale":{"domain":[0,1.35],"nice":false,"zero":false},"axis":{"orient":"top","values":[0.2,0.4,0.6,0.8,1.0,1.2],"labels":false,"tickSize":-5,"title":null}},
   "y":{"field":"v","type":"quantitative","scale":{"domain":[0,4],"nice":false},"axis":{"orient":"right","values":[2],"labels":false,"tickSize":-5,"title":null}}}},
  {"data":{"values":[{"t":0.0474,"v":1.7,"txt":"[−1/N"},{"t":0.296,"v":1.7,"txt":"][dN"},{"t":0.5098,"v":1.7,"txt":"/dt]"}]},"mark":{"type":"text","fontSize":25,"align":"left","baseline":"alphabetic"},
   "encoding":{"x":{"field":"t","type":"quantitative","axis":null},"y":{"field":"v","type":"quantitative","axis":null},"text":{"field":"txt"}}},
  {"data":{"values":[{"t":0.2303,"v":1.2,"txt":"RE"},{"t":0.444,"v":1.2,"txt":"RE"}]},"mark":{"type":"text","fontSize":16,"align":"left","baseline":"alphabetic"},
   "encoding":{"x":{"field":"t","type":"quantitative","axis":null},"y":{"field":"v","type":"quantitative","axis":null},"text":{"field":"txt"}}},
  {"data":{"values":[{"t":1.329,"v":0.48,"txt":"(e)"}]},"mark":{"type":"text","fontSize":24,"align":"right","baseline":"alphabetic"},
   "encoding":{"x":{"field":"t","type":"quantitative","axis":null},"y":{"field":"v","type":"quantitative","axis":null},"text":{"field":"txt"}}}
 ]},
 {"width":456,"height":76,"layer":[
  {"data":{"name":"f_cells"},"mark":{"type":"rect"},
   "encoding":{"x":{"field":"t0","type":"quantitative","scale":{"domain":[0,1.35],"nice":false,"zero":false},"axis":null},"x2":{"field":"t1"},
   "y":{"field":"f0","type":"quantitative","scale":{"domain":[0,360],"nice":false},"axis":{"orient":"left","values":[0,180,360],"ticks":false,"labelPadding":6,"title":null}},"y2":{"field":"f1"},
   "color":{"field":"n","type":"quantitative","scale":{"type":"linear","domain":[0,1,3,6,8,9,10.5,12,13,15,16.5,18.5,20.5,21.5,22.5,24],"range":["#ffffff","#ededed","#c4c4c4","#6a6a6a","#0a0a0a","#12125a","#2424a8","#2a3cc8","#0e5a1a","#34b444","#5a0a0a","#e42222","#d02c8c","#e070d8","#78d8ec","#f4f41c"],"clamp":true},
    "legend":{"type":"gradient","title":null,"direction":"vertical","orient":"right","offset":12,"padding":0,"gradientLength":76,"gradientThickness":14,"gradientStrokeColor":"#333","gradientStrokeWidth":1,"values":[0,10,20],"labelFont":"Liberation Sans","labelFontSize":21,"labelFontWeight":"bold","labelColor":"#000","labelOffset":3}}}},
  {"data":{"name":"f_cells"},"mark":{"type":"rect","opacity":0},
   "encoding":{"x":{"field":"t0","type":"quantitative","scale":{"domain":[0,1.35],"nice":false,"zero":false},"axis":null},"x2":{"field":"t1"},
   "y":{"field":"f0","type":"quantitative","scale":{"domain":[0,360],"nice":false},"axis":{"orient":"right","values":[60,120,180,240,300],"labels":false,"tickSize":-5,"title":null}},"y2":{"field":"f1"}}},
  {"data":{"values":[{"t":0.945,"f":270,"txt":"RE striking\nouter midplane"}]},"mark":{"type":"text","fontSize":18,"lineHeight":20,"lineBreak":"\n","align":"left","baseline":"alphabetic"},
   "encoding":{"x":{"field":"t","type":"quantitative","axis":null},"y":{"field":"f","type":"quantitative","axis":null},"text":{"field":"txt"}}},
  {"data":{"values":[{"t":1.323,"f":28,"txt":"(f)"}]},"mark":{"type":"text","fontSize":24,"align":"right","baseline":"alphabetic"},
   "encoding":{"x":{"field":"t","type":"quantitative","axis":null},"y":{"field":"f","type":"quantitative","axis":null},"text":{"field":"txt"}}}
 ]},
 {"width":456,"height":76,"layer":[
  {"data":{"name":"g_cells"},"mark":{"type":"rect"},
   "encoding":{"x":{"field":"t0","type":"quantitative","scale":{"domain":[0,1.35],"nice":false,"zero":false},"axis":null},"x2":{"field":"t1"},
   "y":{"field":"f0","type":"quantitative","scale":{"domain":[0,360],"nice":false},"axis":{"orient":"left","values":[0,180,360],"ticks":false,"labelPadding":6,"title":"φ (degrees)","titleY":-13,"titlePadding":5}},"y2":{"field":"f1"},
   "color":{"field":"n","type":"quantitative","scale":{"type":"linear","domain":[0,1,3,6,8,9,10.5,12,13,15,16.5,18.5,20.5,21.5,22.5,24],"range":["#ffffff","#ededed","#c4c4c4","#6a6a6a","#0a0a0a","#12125a","#2424a8","#2a3cc8","#0e5a1a","#34b444","#5a0a0a","#e42222","#d02c8c","#e070d8","#78d8ec","#f4f41c"],"clamp":true},
    "legend":{"type":"gradient","title":null,"direction":"vertical","orient":"right","offset":12,"padding":0,"gradientLength":76,"gradientThickness":14,"gradientStrokeColor":"#333","gradientStrokeWidth":1,"values":[0,10,20],"labelFont":"Liberation Sans","labelFontSize":21,"labelFontWeight":"bold","labelColor":"#000","labelOffset":3}}}},
  {"data":{"name":"g_cells"},"mark":{"type":"rect","opacity":0},
   "encoding":{"x":{"field":"t0","type":"quantitative","scale":{"domain":[0,1.35],"nice":false,"zero":false},"axis":null},"x2":{"field":"t1"},
   "y":{"field":"f0","type":"quantitative","scale":{"domain":[0,360],"nice":false},"axis":{"orient":"right","values":[60,120,180,240,300],"labels":false,"tickSize":-5,"title":null}},"y2":{"field":"f1"}}},
  {"data":{"values":[{"t":0.945,"f":270,"txt":"RE striking\nouter divertor"}]},"mark":{"type":"text","fontSize":18,"lineHeight":20,"lineBreak":"\n","align":"left","baseline":"alphabetic"},
   "encoding":{"x":{"field":"t","type":"quantitative","axis":null},"y":{"field":"f","type":"quantitative","axis":null},"text":{"field":"txt"}}},
  {"data":{"values":[{"t":1.323,"f":28,"txt":"(g)"}]},"mark":{"type":"text","fontSize":24,"align":"right","baseline":"alphabetic"},
   "encoding":{"x":{"field":"t","type":"quantitative","axis":null},"y":{"field":"f","type":"quantitative","axis":null},"text":{"field":"txt"}}}
 ]},
 {"width":453,"height":71,"layer":[
  {"data":{"name":"h_line"},"mark":{"type":"line","strokeWidth":1.3,"clip":true},
   "encoding":{"x":{"field":"t","type":"quantitative","scale":{"domain":[0,1.35],"nice":false,"zero":false},"axis":{"orient":"bottom","values":[0.2,0.4,0.6,0.8,1.0,1.2],"format":".1f","tickSize":-5,"labelPadding":14,"labelFontSize":23,"title":"Time (ms)","titlePadding":2}},
   "y":{"field":"v","type":"quantitative","scale":{"domain":[0,6.5],"nice":false},"axis":{"orient":"left","values":[0,2,4,6],"labelExpr":"datum.value + 'x10⁻³'","labelFontSize":20,"tickSize":-5,"labelPadding":6,"title":"⟨Bₙ/B₀⟩","titleFontSize":24,"titlePadding":7}},
   "color":{"field":"n","type":"nominal","scale":{"domain":["n=1","n=2","n=3"],"range":["#222222","#ff2a2a","#3a3ac0"]},"legend":null}}},
  {"data":{"name":"h_line"},"mark":{"type":"point","opacity":0},
   "encoding":{"x":{"field":"t","type":"quantitative","scale":{"domain":[0,1.35],"nice":false,"zero":false},"axis":{"orient":"top","values":[0.2,0.4,0.6,0.8,1.0,1.2],"labels":false,"tickSize":-5,"title":null}},
   "y":{"field":"v","type":"quantitative","scale":{"domain":[0,6.5],"nice":false},"axis":{"orient":"right","values":[2,4,6],"labels":false,"tickSize":-5,"title":null}}}},
  {"data":{"values":[{"t":0.34,"v":2.4,"n":"n=3"},{"t":0.667,"v":4.3,"n":"n=1"},{"t":1.1,"v":3.7,"n":"n=2"}]},"mark":{"type":"text","fontSize":20,"align":"left","baseline":"alphabetic"},
   "encoding":{"x":{"field":"t","type":"quantitative","axis":null},"y":{"field":"v","type":"quantitative","axis":null},"text":{"field":"n"},"color":{"field":"n","type":"nominal","legend":null}}},
  {"data":{"values":[{"t":1.326,"v":4.1,"txt":"(h)"}]},"mark":{"type":"text","fontSize":24,"align":"right","baseline":"alphabetic"},
   "encoding":{"x":{"field":"t","type":"quantitative","axis":null},"y":{"field":"v","type":"quantitative","axis":null},"text":{"field":"txt"}}}
 ]}
],"spacing":26,"bounds":"flush","resolve":{"scale":{"color":"independent"}}}
]
}
